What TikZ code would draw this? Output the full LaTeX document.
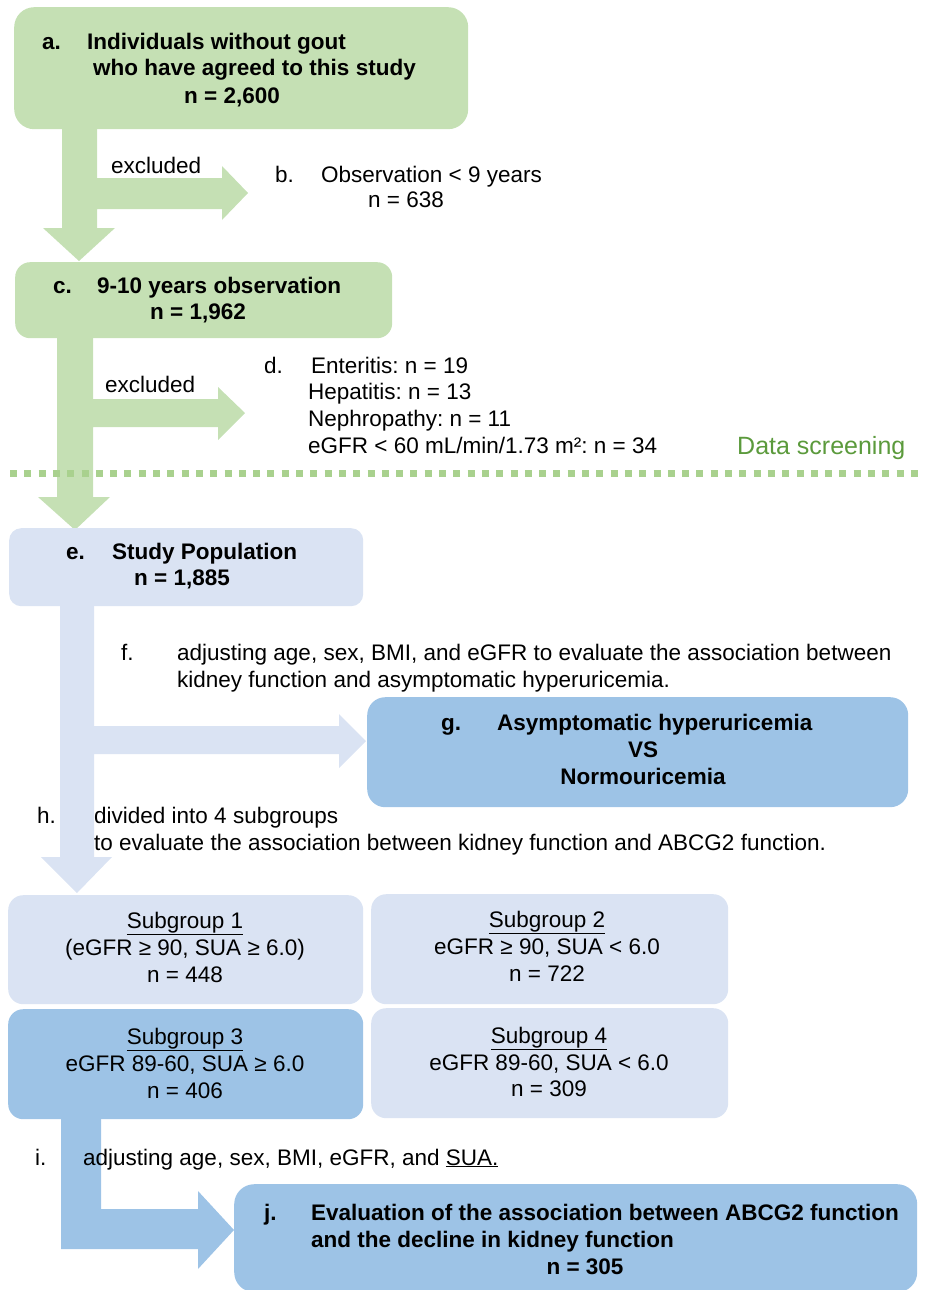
\documentclass[tikz,border=0pt]{standalone}
\usepackage{fontspec}
\setmainfont{Liberation Sans}
\frenchspacing
\definecolor{gfill}{HTML}{C5E0B4}
\definecolor{lbfill}{HTML}{DAE3F3}
\definecolor{bfill}{HTML}{9DC3E6}
\definecolor{dotc}{HTML}{A9D18E}
\definecolor{dsc}{HTML}{5B9A3C}
\begin{document}
\begin{tikzpicture}[x=1pt,y=-1pt,
  box/.style={inner sep=0pt, anchor=north west, draw=none},
  txt/.style={inner sep=0pt, anchor=base west, font=\fontsize{22.5}{27}\selectfont},
  btxt/.style={inner sep=0pt, anchor=base west, font=\fontsize{22.5}{27}\selectfont\bfseries},
  ctxt/.style={inner sep=0pt, anchor=base, font=\fontsize{22.5}{27}\selectfont},
  cbtxt/.style={inner sep=0pt, anchor=base, font=\fontsize{22.5}{27}\selectfont\bfseries},
]
\useasboundingbox (0,0) rectangle (925,1290);

% block arrows
\fill[gfill] (62,128) -- (97,128) -- (97,178) -- (222,178) -- (222,166) -- (248,193)
  -- (222,220) -- (222,209) -- (97,209) -- (97,228) -- (115,228) -- (79,261)
  -- (43,228) -- (62,228) -- cycle;
\fill[gfill] (57,337) -- (93,337) -- (93,399) -- (218,399) -- (218,387) -- (245,413)
  -- (218,440) -- (218,427) -- (93,427) -- (93,497) -- (110,497) -- (75,530)
  -- (38,497) -- (57,497) -- cycle;
\fill[lbfill] (60,605) -- (94,605) -- (94,726) -- (339,726) -- (339,714) -- (366,741)
  -- (339,768) -- (339,754) -- (94,754) -- (94,857) -- (112,857) -- (77,893)
  -- (41,857) -- (60,857) -- cycle;
\fill[bfill] (61,1118) -- (101,1118) -- (101,1209) -- (198,1209) -- (198,1191)
  -- (234,1230) -- (198,1269) -- (198,1249) -- (61,1249) -- cycle;

% dotted separator
\draw[dotc, line width=7pt, dash pattern=on 7pt off 7.3pt] (10,473) -- (925,473);

% boxes
\node[box, fill=gfill, rounded corners=20pt, minimum width=454pt, minimum height=122pt] (a) at (14,7) {};
\node[box, fill=gfill, rounded corners=15pt, minimum width=377pt, minimum height=76pt] (c) at (15,262) {};
\node[box, fill=lbfill, rounded corners=12pt, minimum width=354pt, minimum height=78pt] (e) at (9,528) {};
\node[box, fill=bfill, rounded corners=18pt, minimum width=541pt, minimum height=110pt] (g) at (367,697) {};
\node[box, fill=lbfill, rounded corners=15pt, minimum width=355pt, minimum height=109pt] (s1) at (8,895) {};
\node[box, fill=lbfill, rounded corners=15pt, minimum width=357pt, minimum height=110pt] (s2) at (371,894) {};
\node[box, fill=bfill, rounded corners=15pt, minimum width=355pt, minimum height=110pt] (s3) at (8,1009) {};
\node[box, fill=lbfill, rounded corners=15pt, minimum width=357pt, minimum height=110pt] (s4) at (371,1008) {};
\node[box, fill=bfill, rounded corners=20pt, minimum width=683pt, minimum height=108pt] (j) at (234,1184) {};

% texts a
\node[btxt] (ta0) at (42,50) {a.};
\node[btxt] (ta1) at (87,50) {Individuals without gout};
\node[btxt] (ta2) at (93,76) {who have agreed to this study};
\node[btxt] (ta3) at (184,103) {n = 2,600};
\node[txt] (ex1) at (111,173) {excluded};
\node[txt] (tb0) at (275,182) {b.};
\node[txt] (tb1) at (321,182) {Observation < 9 years};
\node[txt] (tb2) at (368,207) {n = 638};
% c
\node[btxt] (tc0) at (53,293) {c.};
\node[btxt] (tc1) at (97,293) {9-10 years observation};
\node[btxt] (tc2) at (150,319) {n = 1,962};
\node[txt] (ex2) at (105,392) {excluded};
% d
\node[txt] (td0) at (264,373) {d.};
\node[txt] (td1) at (311,373) {Enteritis: n = 19};
\node[txt] (td2) at (308,399) {Hepatitis: n = 13};
\node[txt] (td3) at (308,426) {Nephropathy: n = 11};
\node[txt] (td4) at (308,453) {eGFR < 60 mL/min/1.73 m²: n = 34};
\node[inner sep=0pt, anchor=base west, text=dsc, font=\fontsize{25}{29}\selectfont] (ds) at (737,454) {Data screening};
% e
\node[btxt] (te0) at (66,559) {e.};
\node[btxt] (te1) at (112,559) {Study Population};
\node[btxt] (te2) at (134,585) {n = 1,885};
% f
\node[txt] (tf0) at (121,660) {f.};
\node[txt] (tf1) at (177,660) {adjusting age, sex, BMI, and eGFR to evaluate the association between};
\node[txt] (tf2) at (177,687) {kidney function and asymptomatic hyperuricemia.};
% g
\node[btxt] (tg0) at (441,730) {g.};
\node[btxt] (tg1) at (497,730) {Asymptomatic hyperuricemia};
\node[cbtxt] (tg2) at (643,757) {VS};
\node[cbtxt] (tg3) at (643,784) {Normouricemia};
% h
\node[txt] (th0) at (37,823) {h.};
\node[txt] (th1) at (94,823) {divided into 4 subgroups};
\node[txt] (th2) at (94,850) {to evaluate the association between kidney function and ABCG2 function.};
% subgroups
\node[ctxt] (t11) at (185,928) {\underline{Subgroup 1}};
\node[ctxt] (t12) at (185,955) {(eGFR ≥ 90, SUA ≥ 6.0)};
\node[ctxt] (t13) at (185,982) {n = 448};
\node[ctxt] (t21) at (547,927) {\underline{Subgroup 2}};
\node[ctxt] (t22) at (547,954) {eGFR ≥ 90, SUA < 6.0};
\node[ctxt] (t23) at (547,981) {n = 722};
\node[ctxt] (t31) at (185,1044) {\underline{Subgroup 3}};
\node[ctxt] (t32) at (185,1071) {eGFR 89-60, SUA ≥ 6.0};
\node[ctxt] (t33) at (185,1098) {n = 406};
\node[ctxt] (t41) at (549,1043) {\underline{Subgroup 4}};
\node[ctxt] (t42) at (549,1070) {eGFR 89-60, SUA < 6.0};
\node[ctxt] (t43) at (549,1096) {n = 309};
% i
\node[txt] (ti0) at (35,1165) {i.};
\node[txt] (ti1) at (83,1165) {adjusting age, sex, BMI, eGFR, and \underline{SUA.}};
% j
\node[btxt] (tj0) at (264,1220) {j.};
\node[btxt] (tj1) at (311,1220) {Evaluation of the association between ABCG2 function};
\node[btxt] (tj2) at (311,1247) {and the decline in kidney function};
\node[cbtxt] (tj3) at (585,1274) {n = 305};
\end{tikzpicture}
\end{document}
